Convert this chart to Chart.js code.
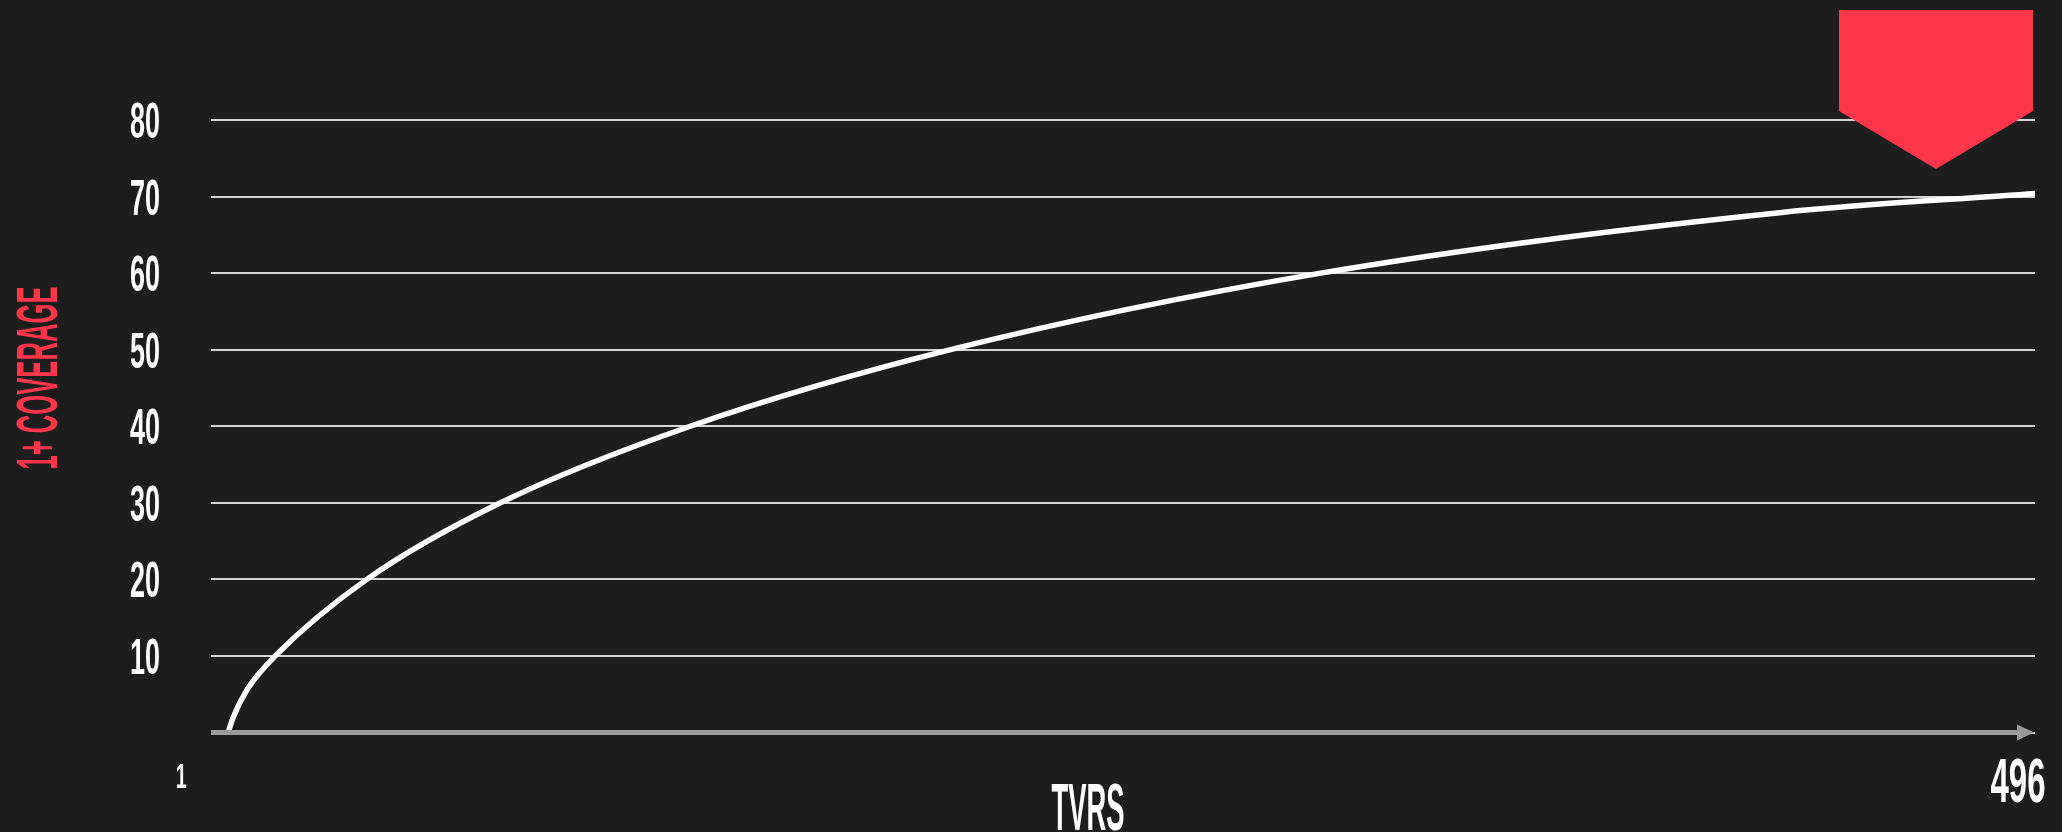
<!DOCTYPE html>
<html>
<head>
<meta charset="utf-8">
<script src="https://cdn.jsdelivr.net/npm/chart.js@4.4.0/dist/chart.umd.min.js"></script>
<style>
  html, body { margin: 0; padding: 0; background: #1d1d1d; }
  #wrap { width: 2062px; height: 832px; position: relative; }
</style>
</head>
<body>
<div id="wrap"><canvas id="grafica"></canvas></div>
<script>
// valores
const tvrs = [1, 2.4, 6.2, 13.9, 39, 75.6, 127.6, 198.9, 300.3, 426, 496];
const cobertura = [0, 2, 5.6, 10, 20, 30, 40, 50, 60, 67.9, 70.4];
const etiquetasX = [1, 496];
const tituloX = "TVRS";
const tituloY = "1+ COVERAGE";

const ROJO = "#ff354a";
const FUENTE = "'Liberation Sans Narrow', 'Liberation Sans', sans-serif";

// texto estrecho: alto de cifra h, ancho total w
function textoEstrecho(ctx, texto, x, base, h, w, color, align) {
  ctx.save();
  ctx.font = "bold " + (h / 0.72) + "px " + FUENTE;
  const medido = ctx.measureText(texto).width;
  const sx = w / medido;
  let x0 = x;
  if (align === "right") x0 = x - w;
  if (align === "center") x0 = x - w / 2;
  ctx.translate(x0, base);
  ctx.scale(sx, 1);
  ctx.fillStyle = color;
  ctx.textAlign = "left";
  ctx.textBaseline = "alphabetic";
  ctx.fillText(texto, 0, 0);
  ctx.restore();
}

const decoracion = {
  id: "decoracion",
  afterDraw(chart) {
    const ctx = chart.ctx;
    const a = chart.chartArea;
    const x = chart.scales.x;
    const y = chart.scales.y;

    // eje x con flecha
    const y0 = y.getPixelForValue(0);
    ctx.save();
    ctx.fillStyle = "#9a9a9a";
    ctx.fillRect(a.left, y0 - 2.5, a.right - 18 - a.left, 5);
    ctx.beginPath();
    ctx.moveTo(a.right - 18, y0 - 8);
    ctx.lineTo(a.right - 1, y0);
    ctx.lineTo(a.right - 18, y0 + 8);
    ctx.closePath();
    ctx.fill();
    ctx.restore();

    // etiquetas del eje y
    y.ticks.forEach(t => {
      if (t.value === 0) return;
      const py = y.getPixelForValue(t.value);
      const s = String(t.value);
      textoEstrecho(ctx, s, 160, py + 18, 36, 15 * s.length, "#ffffff", "right");
    });

    // etiquetas del eje x
    const p1 = x.getPixelForValue(etiquetasX[0]);
    textoEstrecho(ctx, String(etiquetasX[0]), p1 - 47, 788, 25, 11, "#ffffff", "center");
    const p2 = x.getPixelForValue(etiquetasX[1]);
    textoEstrecho(ctx, String(etiquetasX[1]), p2 - 17, 802, 45, 55, "#ffffff", "center");

    // titulos
    textoEstrecho(ctx, tituloX, (a.left + a.right) / 2 - 35, 830, 48, 73, "#ffffff", "center");
    ctx.save();
    ctx.translate(57, 378);
    ctx.rotate(-Math.PI / 2);
    textoEstrecho(ctx, tituloY, 0, 0, 41, 183, ROJO, "center");
    ctx.restore();

    // marcador rojo
    ctx.save();
    ctx.fillStyle = ROJO;
    ctx.beginPath();
    ctx.moveTo(a.right - 196, 10);
    ctx.lineTo(a.right - 2, 10);
    ctx.lineTo(a.right - 2, 111);
    ctx.lineTo(a.right - 99, 169);
    ctx.lineTo(a.right - 196, 111);
    ctx.closePath();
    ctx.fill();
    ctx.restore();
  }
};

new Chart(document.getElementById("grafica"), {
  type: "line",
  data: {
    datasets: [{
      data: tvrs.map((t, i) => ({ x: t, y: cobertura[i] })),
      borderColor: "#ffffff",
      borderWidth: 5.5,
      pointRadius: 0,
      cubicInterpolationMode: "monotone",
      fill: false
    }]
  },
  options: {
    responsive: true,
    maintainAspectRatio: false,
    animation: false,
    layout: { padding: { left: 211, right: 27, top: 120, bottom: 99.5 } },
    plugins: { legend: { display: false }, tooltip: { enabled: false } },
    scales: {
      x: { type: "linear", min: -3.7, max: 496, display: false },
      y: {
        min: 0,
        max: 80,
        ticks: { stepSize: 10, display: false },
        border: { display: false },
        grid: { color: "#d4d4d4", lineWidth: 2, drawTicks: false }
      }
    }
  },
  plugins: [decoracion]
});
</script>
</body>
</html>
